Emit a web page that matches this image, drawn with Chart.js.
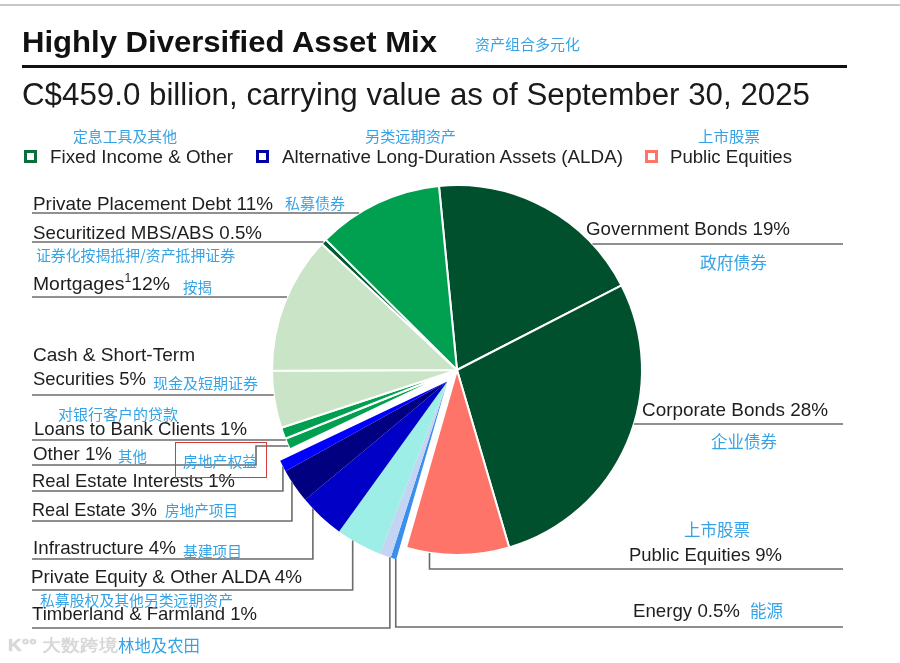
<!DOCTYPE html>
<html><head><meta charset="utf-8">
<script src="https://cdn.jsdelivr.net/npm/chart.js@4.4.1/dist/chart.umd.min.js"></script>
<style>
body{margin:0;background:#fff;}
#wrap{position:relative;width:900px;height:663px;overflow:hidden;background:#fff;font-family:"Liberation Sans",Arial,Helvetica,sans-serif;}
#c{position:absolute;left:0;top:0;}
.t{position:absolute;white-space:nowrap;line-height:1;transform-origin:0 50%;color:#1e1e1e;}
.zh{font-family:"Noto Sans CJK SC","Noto Sans",sans-serif;color:#35a3e6;}
.sup{font-size:12px;position:relative;top:-8px;}
.rule{position:absolute;}
.sq{position:absolute;width:7px;height:7px;border:3.5px solid #000;background:#fff;}
</style></head><body>
<div id="wrap"><canvas id="c" width="900" height="663"></canvas></div>
<script>
// ---------- data ----------
const categories = ['Government Bonds','Corporate Bonds','Public Equities','Energy','Timberland & Farmland',
  'Private Equity & Other ALDA','Infrastructure','Real Estate','Real Estate Interests','Other',
  'Loans to Bank Clients','Cash & Short-Term Securities','Mortgages','Securitized MBS/ABS','Private Placement Debt'];
const values = [19, 28, 9, 0.5, 1, 4, 4, 3, 1, 1, 1, 5, 12, 0.5, 11];
const zhLabels = ['政府债券','企业债券','上市股票','能源','林地及农田','私募股权及其他另类远期资产','基建项目',
  '房地产项目','房地产权益','其他','对银行客户的贷款','现金及短期证券','按揭','证券化按揭抵押/资产抵押证券','私募债券'];
const groupOf = ['FI','FI','EQ','ALDA','ALDA','ALDA','ALDA','ALDA','ALDA','FI','FI','FI','FI','FI','FI'];
const legendGroups = ['FI','ALDA','EQ'];
const legendLabels = ['Fixed Income & Other','Alternative Long-Duration Assets (ALDA)','Public Equities'];
const legendZh = ['定息工具及其他','另类远期资产','上市股票'];
const titleText = 'Highly Diversified Asset Mix';
const titleZh = '资产组合多元化';
const subtitleText = 'C$459.0 billion, carrying value as of September 30, 2025';
const footnoteMark = '1';

// ---------- styles ----------
const sliceColors = ['#004f2d','#004f2d','#ff7468','#3b8ef0','#c3d5f2','#9deee6','#0000c6','#000080','#0000ff',
  '#00a050','#00a050','#c9e4c6','#c9e4c6','#005a32','#00a050'];
const sliceBorders = [2,2,2,0,0,0,0,0,0,2,2,2,2,2,2];
const legendColors = {FI:'#0b6e3c', ALDA:'#0000a8', EQ:'#ff7468'};
const ALDA_SHIFT = 15;
const LEFT_X = 32, RIGHT_X = 843;
const LINE_COLOR = '#6b6b6b';

// label layout (positions only)
const layout = [
 {x:586, cy:228, w:204, zx:700, zcy:262, zw:67, zs:16.5, lineY:244, side:'R'},
 {x:642, cy:409, w:186, zx:711, zcy:441, zw:66, zs:16.5, lineY:424, side:'R'},
 {x:629, cy:554, w:153, zx:684, zcy:529, zw:66, zs:16.5, lineY:569, side:'R', frac:0.77},
 {x:633, cy:610, w:107, zx:750, zcy:610, zw:33, zs:16.5, lineY:627, side:'R', frac:0.1},
 {x:32, cy:613, w:225, zx:118, zcy:645, zw:82, zs:16.5, lineY:628, side:'L', frac:0.08},
 {x:31, cy:576, w:271, zx:40, zcy:599, zw:193, zs:15, lineY:590, side:'L', frac:0.65},
 {x:33, cy:547, w:143, zx:183, zcy:550, zw:59, zs:15, lineY:559, side:'L', frac:0.75},
 {x:32, cy:509, w:125, zx:165, zcy:509, zw:73, zs:15, lineY:521, side:'L', frac:0.64},
 {x:32, cy:480, w:203, zx:183, zcy:460, zw:74, zs:15, lineY:491, side:'L', frac:0.47, box:[175,442,92,36]},
 {x:33, cy:453, w:79, zx:118, zcy:455, zw:29, zs:15, lineY:465, side:'L', elbowX:256, elbowY:446},
 {x:34, cy:428, w:213, zx:58, zcy:413, zw:120, zs:15, lineY:440, side:'L'},
 {x:33, cy:354, w:162, zx:153, zcy:382, zw:105, zs:15, lineY:395, side:'L', split:'Short-Term', cy2:378, w2:113},
 {x:33, cy:283, w:137, zx:183, zcy:286, zw:29, zs:15, lineY:297, side:'L', sup:true},
 {x:33, cy:232, w:229, zx:36, zcy:254, zw:199, zs:15, lineY:242, side:'L'},
 {x:33, cy:203, w:240, zx:285, zcy:202, zw:60, zs:15, lineY:213, side:'L'}
];

const wrap = document.getElementById('wrap');
function addText(str, x, cy, size, w, opts) {
  opts = opts || {};
  const d = document.createElement('div');
  d.className = 't' + (opts.zh ? ' zh' : '');
  d.style.left = x + 'px';
  d.style.top = (cy - size * (opts.zh ? 0.5 : 0.49)) + 'px';
  d.style.fontSize = size + 'px';
  if (opts.bold) d.style.fontWeight = 'bold';
  if (opts.color) d.style.color = opts.color;
  if (opts.html) d.innerHTML = str; else d.textContent = str;
  if (w) d.dataset.w = w;
  wrap.appendChild(d);
  return d;
}
function addBox(l, t, w, h, css) {
  const d = document.createElement('div');
  d.className = 'rule';
  d.style.left = l + 'px'; d.style.top = t + 'px';
  d.style.width = w + 'px'; d.style.height = h + 'px';
  Object.assign(d.style, css || {});
  wrap.appendChild(d);
  return d;
}

// header
addBox(0, 4, 900, 1.5, {background:'#c8c8c8'});
addText(titleText, 22, 42, 30, 415, {bold:true, color:'#111'});
addText(titleZh, 475, 43, 15, 105, {zh:true});
addBox(22, 65, 825, 3, {background:'#111'});
addText(subtitleText, 22, 94, 31, 788, {color:'#1a1a1a'});

// legend
const legendPos = [{sq:24, tx:50, tw:183, zx:73, zw:104}, {sq:256, tx:282, tw:341, zx:365, zw:91}, {sq:645, tx:670, tw:122, zx:698, zw:62}];
legendGroups.forEach((g, i) => {
  const P = legendPos[i];
  const s = addBox(P.sq, 150, 7, 7, {});
  s.className = 'sq'; s.style.borderColor = legendColors[g];
  addText(legendLabels[i], P.tx, 157.5, 18.8, P.tw, {color:'#222'});
  addText(legendZh[i], P.zx, 135, 15, P.zw, {zh:true});
});

// slice labels
categories.forEach((cat, i) => {
  const L = layout[i];
  const pct = values[i] + '%';
  if (L.split) {
    const k = cat.indexOf(L.split) + L.split.length;
    addText(cat.slice(0, k), L.x, L.cy, 19, L.w);
    addText(cat.slice(k + 1) + ' ' + pct, L.x, L.cy2, 19, L.w2);
  } else if (L.sup) {
    addText(cat + '<span class="sup">' + footnoteMark + '</span>' + pct, L.x, L.cy, 19, L.w, {html:true});
  } else {
    addText(cat + ' ' + pct, L.x, L.cy, 19, L.w);
  }
  addText(zhLabels[i], L.zx, L.zcy, L.zs, L.zw, {zh:true});
  if (L.box) addBox(L.box[0], L.box[1], L.box[2], L.box[3], {border:'1.5px solid #d23c3c', boxSizing:'border-box'});
});

// watermark
addText('<span style="font-weight:bold">K°°</span> 大数跨境', 8, 645, 17, 110, {html:true, color:'#d9d9d9'}).style.textShadow = '0 0 1px #bbb';

// fit text widths
function fit() {
  wrap.querySelectorAll('.t').forEach(d => {
    if (!d.dataset.w) return;
    d.style.transform = '';
    const nat = d.getBoundingClientRect().width;
    if (nat > 0) d.style.transform = 'scaleX(' + (parseFloat(d.dataset.w) / nat) + ')';
  });
}
fit();
if (document.fonts && document.fonts.ready) document.fonts.ready.then(fit);

// ---------- chart ----------
function shiftALDA(chart) {
  const meta = chart.getDatasetMeta(0);
  const ca = chart.chartArea;
  const cx = (ca.left + ca.right) / 2, cy = (ca.top + ca.bottom) / 2;
  let a0 = Infinity, a1 = -Infinity;
  meta.data.forEach((arc, i) => {
    if (groupOf[i] === 'ALDA') { a0 = Math.min(a0, arc.startAngle); a1 = Math.max(a1, arc.endAngle); }
  });
  const mid = (a0 + a1) / 2;
  meta.data.forEach((arc, i) => {
    if (groupOf[i] === 'ALDA') {
      arc.x = cx + ALDA_SHIFT * Math.cos(mid);
      arc.y = cy + ALDA_SHIFT * Math.sin(mid);
    } else { arc.x = cx; arc.y = cy; }
  });
}

const leaderPlugin = {
  id: 'leaders',
  afterDatasetsUpdate(chart) { shiftALDA(chart); },
  beforeDatasetsDraw(chart) { shiftALDA(chart); },
  afterDatasetsDraw(chart) {
    const ctx = chart.ctx;
    const meta = chart.getDatasetMeta(0);
    ctx.save();
    ctx.strokeStyle = LINE_COLOR;
    ctx.lineWidth = 1.6;
    meta.data.forEach((arc, i) => {
      const L = layout[i];
      const r = arc.outerRadius;
      const endX = L.side === 'L' ? LEFT_X : RIGHT_X;
      ctx.beginPath();
      if (L.frac !== undefined) {
        const a = arc.startAngle + L.frac * (arc.endAngle - arc.startAngle);
        const px = arc.x + r * Math.cos(a), py = arc.y + r * Math.sin(a);
        ctx.moveTo(px, py);
        ctx.lineTo(px, L.lineY);
        ctx.lineTo(endX, L.lineY);
      } else if (L.elbowX !== undefined) {
        const dy = L.elbowY - arc.y;
        const ex = arc.x - Math.sqrt(Math.max(r * r - dy * dy, 0));
        ctx.moveTo(ex, L.elbowY);
        ctx.lineTo(L.elbowX, L.elbowY);
        ctx.lineTo(L.elbowX, L.lineY);
        ctx.lineTo(endX, L.lineY);
      } else {
        const dy = L.lineY - arc.y;
        const dx = Math.sqrt(Math.max(r * r - dy * dy, 0));
        const ex = L.side === 'L' ? arc.x - dx : arc.x + dx;
        ctx.moveTo(ex, L.lineY);
        ctx.lineTo(endX, L.lineY);
      }
      ctx.stroke();
    });
    ctx.restore();
  }
};

new Chart(document.getElementById('c'), {
  type: 'pie',
  data: {
    labels: categories,
    datasets: [{
      data: values,
      backgroundColor: sliceColors,
      borderColor: '#ffffff',
      borderWidth: sliceBorders,
      radius: 185,
      hoverOffset: 0,
      offset: 0
    }]
  },
  options: {
    responsive: false,
    animation: false,
    events: [],
    rotation: -5.6,
    layout: {padding: {left: 272, right: 258, top: 185, bottom: 108}},
    plugins: {legend: {display: false}, tooltip: {enabled: false}, title: {display: false}}
  },
  plugins: [leaderPlugin]
});
</script></body></html>
